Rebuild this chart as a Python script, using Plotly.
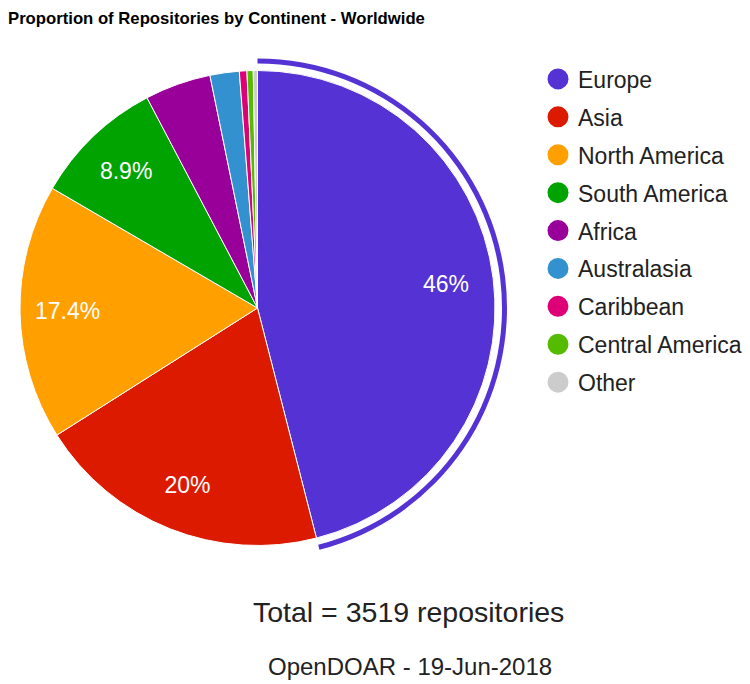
import plotly.graph_objects as go

# ---- data ----
continents = ["Europe", "Asia", "North America", "South America", "Africa",
              "Australasia", "Caribbean", "Central America", "Other"]
repositories = [1619, 704, 612, 313, 158, 70, 18, 15, 10]
colors = ["#5532D4", "#DC1A00", "#FFA000", "#00A300", "#990099",
          "#3391CF", "#DD0077", "#55BB00", "#CCCCCC"]
title_text = "Proportion of Repositories by Continent - Worldwide"
source_text = "OpenDOAR - 19-Jun-2018"

total = sum(repositories)

def fmt_pct(v):
    p = 100.0 * v / total
    if p < 5:
        return ""
    s = f"{p:.1f}"
    if s.endswith(".0"):
        s = s[:-2]
    return s + "%"

labels_txt = [fmt_pct(v) for v in repositories]

W, H = 750, 684
OFF = 8  # page body margin
FONT = "Liberation Sans, Arial, sans-serif"

def px(x):
    return (x - OFF) / W

def py(y):
    return 1 - (y - OFF) / H

def dom(cx, cy, r):
    return dict(x=[px(cx - r), px(cx + r)], y=[py(cy + r), py(cy - r)])

cx, cy, r = 257.5, 308, 237.5

fig = go.Figure()

# main pie
fig.add_trace(go.Pie(
    labels=continents, values=repositories, sort=False, direction="clockwise",
    rotation=0, domain=dom(cx, cy, r),
    marker=dict(colors=colors, line=dict(color="white", width=1)),
    textinfo="none", showlegend=False, hoverinfo="label+value+percent",
))

# highlight ring around the first slice
ring_colors = [colors[0]] + ["rgba(0,0,0,0)"] * (len(continents) - 1)
fig.add_trace(go.Pie(
    labels=continents, values=repositories, sort=False, direction="clockwise",
    rotation=0, domain=dom(cx, cy, 249.5), hole=244.5 / 249.5,
    marker=dict(colors=ring_colors, line=dict(width=0)),
    textinfo="none", showlegend=False, hoverinfo="skip",
))

# transparent donut carrying the percentage labels near the rim
fig.add_trace(go.Pie(
    labels=continents, values=repositories, sort=False, direction="clockwise",
    rotation=0, domain=dom(cx, cy, r), hole=0.6,
    marker=dict(colors=["rgba(0,0,0,0)"] * len(continents), line=dict(width=0)),
    text=labels_txt, texttemplate="%{text}", textposition="inside",
    insidetextorientation="horizontal",
    textfont=dict(family=FONT, size=23, color="white"),
    showlegend=False, hoverinfo="skip",
))

# legend entries with circular markers
for i, (name, c) in enumerate(zip(continents, colors)):
    fig.add_trace(go.Scatter(
        x=[None], y=[None], mode="markers", name=name,
        legendgroup=f"g{i}",
        marker=dict(symbol="circle", size=16, color=c, line=dict(color=c, width=5)),
    ))

fig.update_layout(
    width=W, height=H,
    margin=dict(l=0, r=0, t=0, b=0),
    paper_bgcolor="white", plot_bgcolor="white",
    font=dict(family=FONT, color="#222222"),
    title=dict(text="<b>" + title_text + "</b>", x=px(8), xanchor="left",
               y=py(18), yanchor="middle", xref="container", yref="container",
               font=dict(family=FONT, size=16.7, color="#000000")),
    xaxis=dict(visible=False), yaxis=dict(visible=False),
    legend=dict(x=px(538), xanchor="left", y=py(57.5), yanchor="top",
                font=dict(family=FONT, size=23, color="#222222"),
                tracegroupgap=5, itemwidth=30, bgcolor="rgba(0,0,0,0)"),
    annotations=[
        dict(text=f"Total = {total} repositories", x=px(409), y=py(612),
             xref="paper", yref="paper", showarrow=False,
             xanchor="center", yanchor="middle",
             font=dict(family=FONT, size=28.5, color="#222222")),
        dict(text=source_text, x=px(410), y=py(666),
             xref="paper", yref="paper", showarrow=False,
             xanchor="center", yanchor="middle",
             font=dict(family=FONT, size=24, color="#222222")),
    ],
)

fig.write_html("out.html")
